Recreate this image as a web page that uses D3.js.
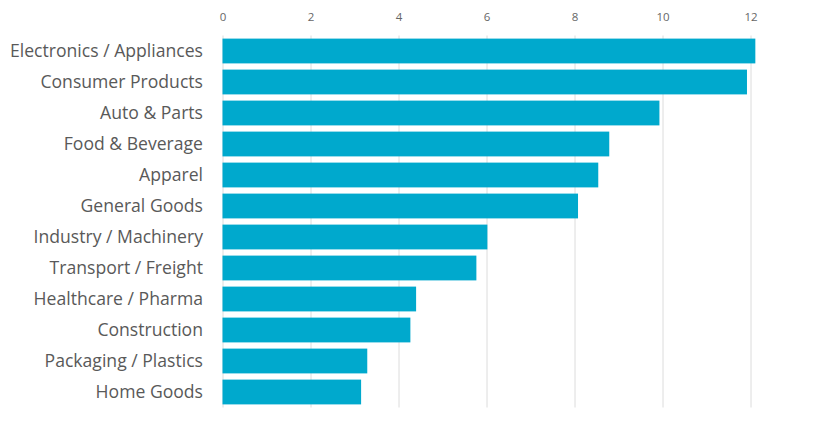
<!DOCTYPE html>
<html>
<head>
<meta charset="utf-8">
<script src="https://cdn.jsdelivr.net/npm/d3@7"></script>
<style>
    body { margin: 0; background: #fff; }
    .cat { font-family: "Open Sans", "Noto Sans", sans-serif; font-size: 17.6px; fill: #595959; }
    .tick text { font-family: "Open Sans", "Noto Sans", sans-serif; font-size: 11.5px; fill: #666; }
</style>
</head>
<body>
<div id="chart_bars"></div>
<script>
var categories = ["Electronics / Appliances", "Consumer Products", "Auto & Parts", "Food & Beverage",
    "Apparel", "General Goods", "Industry / Machinery", "Transport / Freight",
    "Healthcare / Pharma", "Construction", "Packaging / Plastics", "Home Goods"];
var values = [12.11, 11.92, 9.93, 8.79, 8.54, 8.08, 6.02, 5.77, 4.40, 4.27, 3.29, 3.15];
var ticks = [0, 2, 4, 6, 8, 10, 12];

function BarChart() {
    var width = 816, height = 423,
        plotLeft = 222.5, plotRight = 750.5,
        plotTop = 35.5, plotBottom = 407.5,
        barColor = "#00a9cd";

    var svg = d3.select("#chart_bars").append("svg")
        .attr("width", width)
        .attr("height", height);

    var x = d3.scaleLinear().domain([0, 12]).range([plotLeft, plotRight]);
    var y = d3.scaleBand().domain(categories).range([plotTop, plotBottom])
        .paddingInner(0.2).paddingOuter(0.1);

    // gridlines + tick labels on top
    var xAxis = svg.append("g")
        .attr("transform", "translate(0," + plotTop + ")")
        .call(d3.axisTop(x).tickValues(ticks).tickSize(-(plotBottom - plotTop)).tickPadding(15).tickFormat(d3.format("d")));
    xAxis.select(".domain").remove();
    xAxis.selectAll(".tick line").attr("stroke", "#dcdcdc");

    svg.selectAll(".bar")
        .data(values)
        .enter().append("rect")
        .attr("class", "bar")
        .attr("x", x(0))
        .attr("y", function (d, i) {
            return y(categories[i]);
        })
        .attr("width", function (d) {
            return x(d) - x(0);
        })
        .attr("height", y.bandwidth())
        .style("fill", barColor);

    svg.selectAll(".cat")
        .data(categories)
        .enter().append("text")
        .attr("class", "cat")
        .attr("x", 203)
        .attr("y", function (d) {
            return y(d) + y.bandwidth() / 2;
        })
        .attr("dy", "0.35em")
        .style("text-anchor", "end")
        .text(function (d) {
            return d;
        });
}

BarChart();
</script>
</body>
</html>
